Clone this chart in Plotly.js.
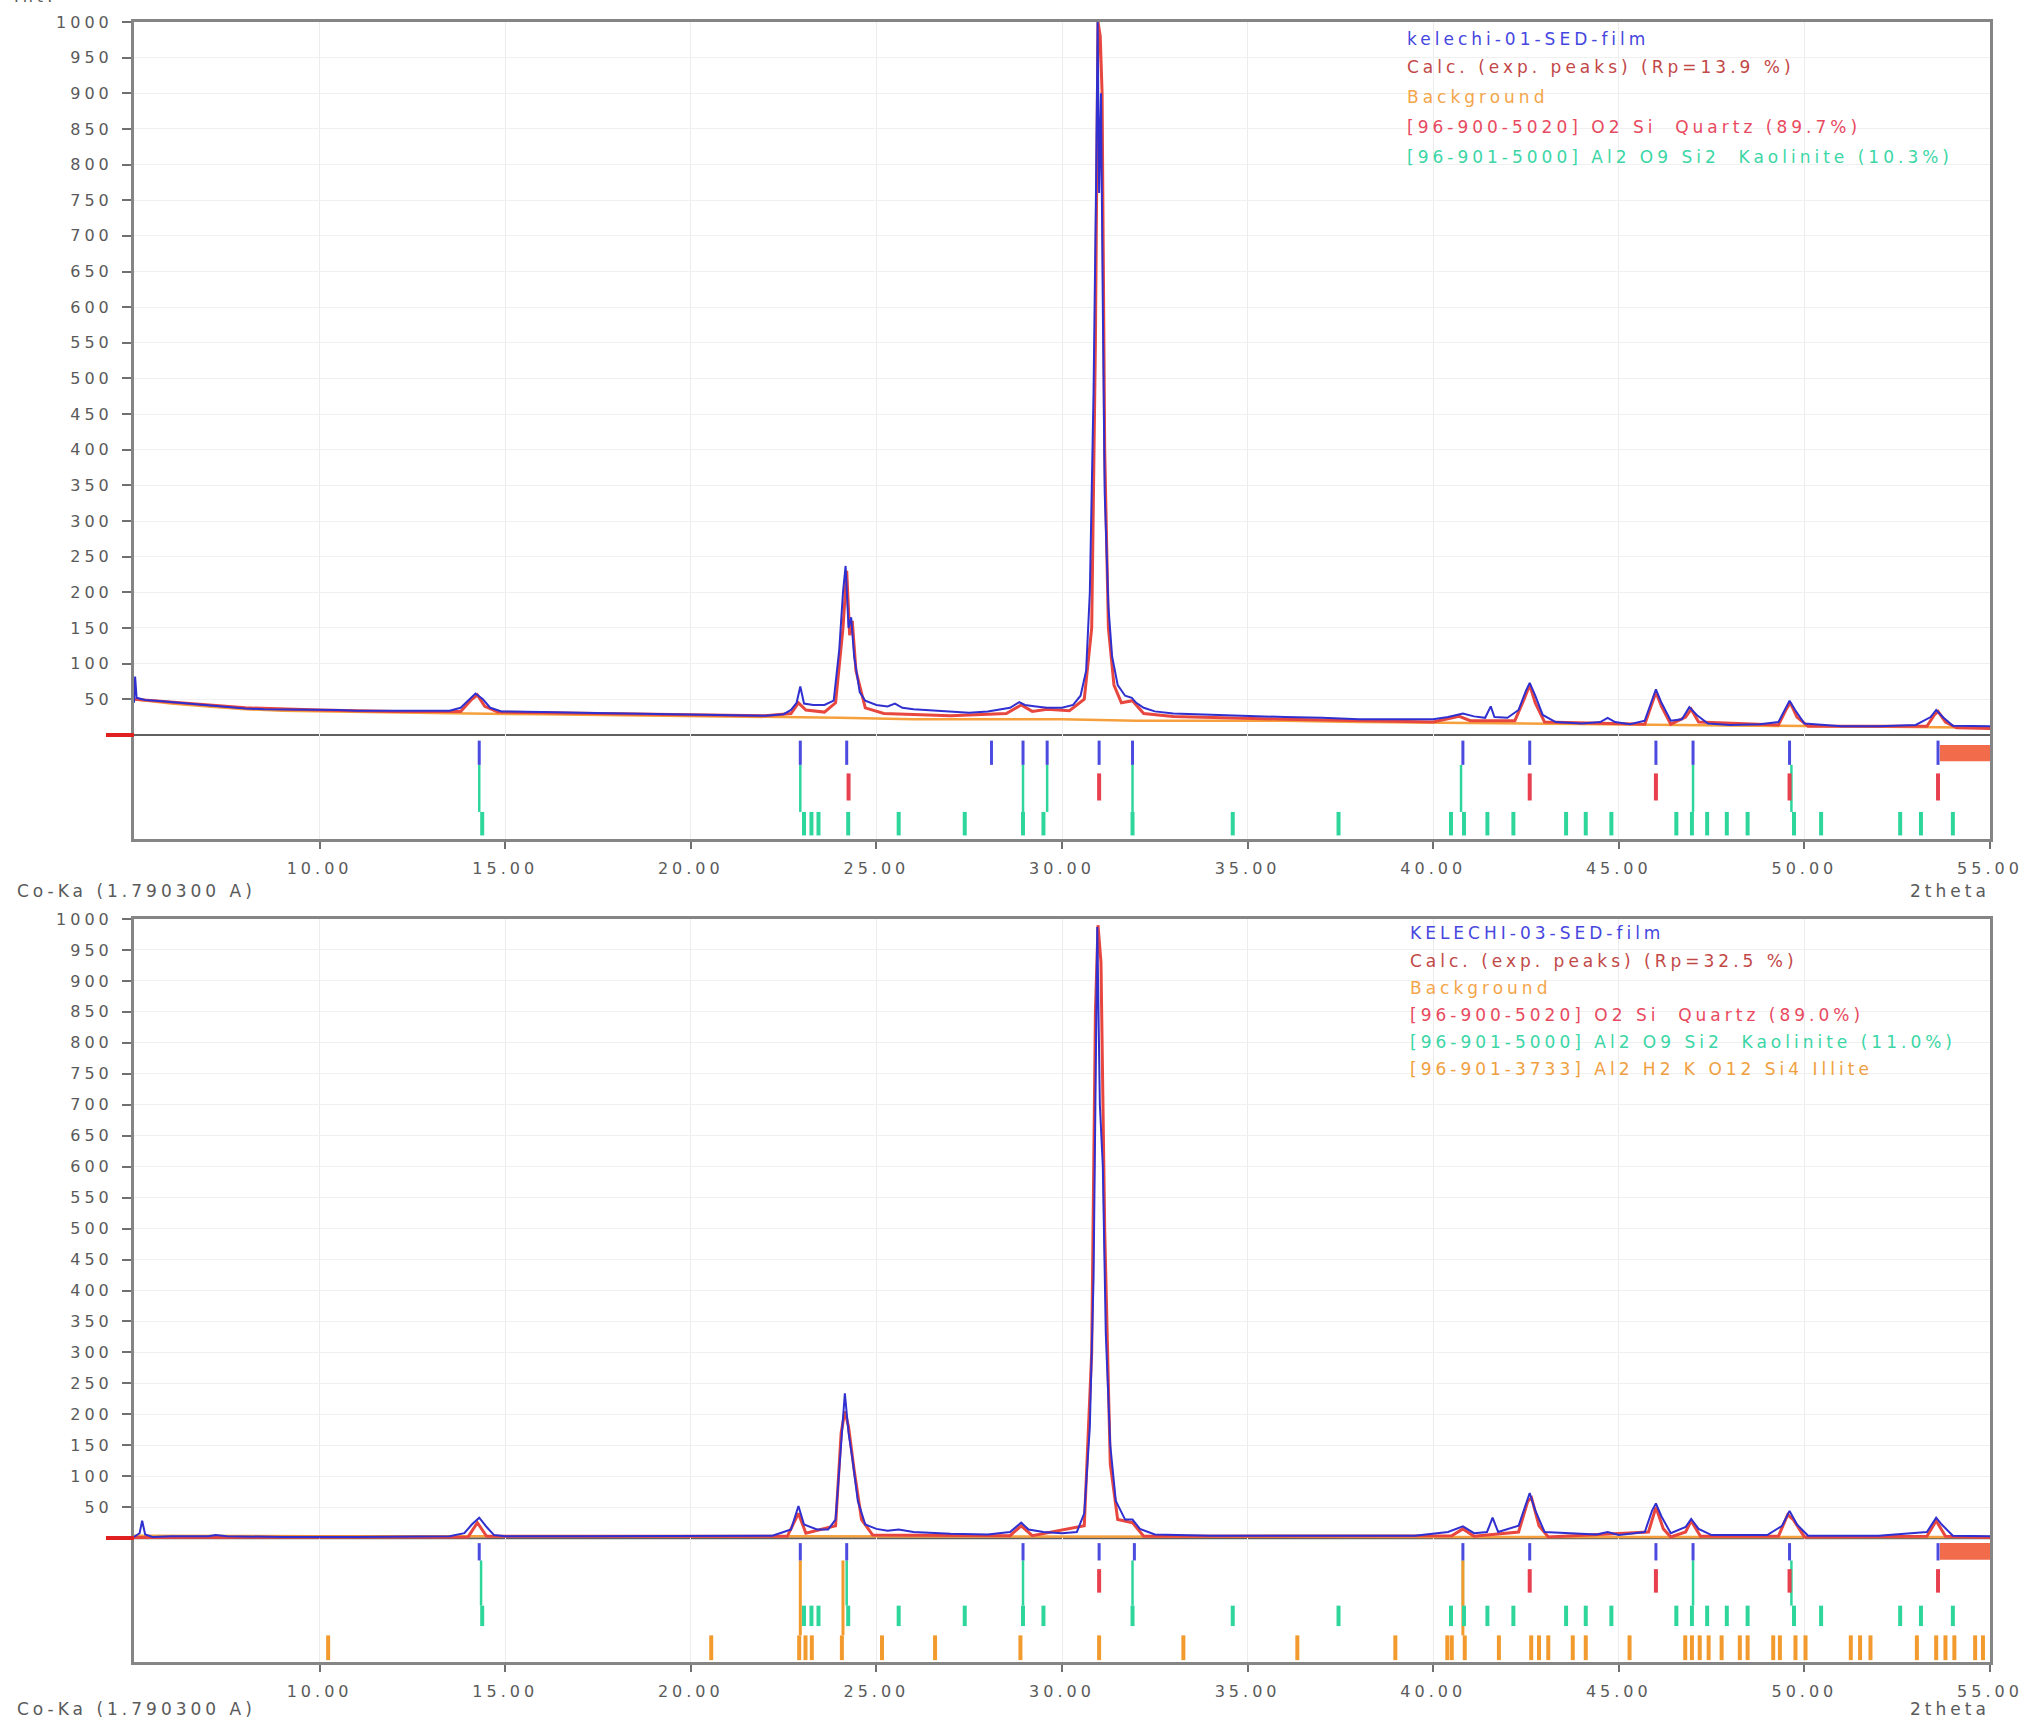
<!DOCTYPE html>
<html><head><meta charset="utf-8">
<script src="https://cdn.plot.ly/plotly-3.0.1.min.js"></script>
<style>
html,body{margin:0;padding:0;background:#fff;}
#chart{width:2030px;height:1726px;}
svg text{letter-spacing:4px;}
</style></head><body><div id="chart"></div>
<script>
// ---------- tick labels ----------
const xTickVals = [10, 15, 20, 25, 30, 35, 40, 45, 50, 55];
const xTickText = ['10.00', '15.00', '20.00', '25.00', '30.00', '35.00', '40.00', '45.00', '50.00', '55.00'];
const yTickVals = [50, 100, 150, 200, 250, 300, 350, 400, 450, 500, 550, 600, 650, 700, 750, 800, 850, 900, 950, 1000];

// ---------- top panel: kelechi-01 ----------
const obs1X = [5.00, 5.03, 5.07, 5.3, 5.6, 6.0, 6.5, 7.0, 7.5, 8.0, 8.5, 9.0, 9.5, 10.0, 10.5, 11.0, 11.5, 12.0, 12.5, 13.0, 13.5, 13.8, 14.0, 14.2, 14.4, 14.6, 14.9, 15.5, 16, 17, 18, 19, 20, 21, 22, 22.5, 22.7, 22.85, 22.95, 23.05, 23.3, 23.6, 23.85, 24.0, 24.1, 24.17, 24.25, 24.32, 24.4, 24.55, 24.7, 25.0, 25.3, 25.5, 25.7, 26.0, 26.5, 27.0, 27.5, 28.0, 28.3, 28.6, 28.85, 29.0, 29.3, 29.6, 30.0, 30.3, 30.5, 30.65, 30.75, 30.85, 30.92, 30.96, 31.0, 31.05, 31.1, 31.15, 31.25, 31.35, 31.5, 31.7, 31.88, 32.0, 32.2, 32.5, 33, 34, 35, 36, 37, 38, 39, 40, 40.4, 40.8, 41.1, 41.4, 41.55, 41.65, 42.0, 42.3, 42.5, 42.6, 42.75, 42.95, 43.3, 44, 44.5, 44.7, 44.9, 45.3, 45.7, 45.9, 46.0, 46.15, 46.4, 46.7, 46.9, 47.1, 47.4, 48, 48.8, 49.3, 49.5, 49.6, 49.75, 50.0, 51, 52, 53.0, 53.4, 53.55, 53.75, 54.0, 55.0];
const obs1Y = [45, 82, 52, 49, 48, 46, 44, 41, 39, 37, 36, 36, 35, 35, 35, 34, 34, 33, 33, 33, 34, 38, 48, 58, 50, 38, 33, 33, 32, 31, 30, 30, 29, 28, 27, 29, 35, 45, 68, 44, 42, 42, 48, 120, 200, 237, 150, 165, 110, 60, 48, 42, 40, 44, 38, 36, 34, 33, 31, 33, 36, 38, 46, 42, 40, 38, 38, 42, 55, 90, 200, 480, 780, 1000, 760, 900, 600, 340, 180, 110, 70, 55, 52, 45, 38, 33, 30, 28, 26, 25, 24, 22, 22, 22, 25, 30, 26, 24, 40, 25, 24, 35, 62, 73, 55, 28, 18, 16, 18, 24, 18, 15, 20, 50, 64, 45, 20, 22, 39, 28, 16, 14, 15, 18, 38, 48, 35, 16, 12, 12, 14, 25, 35, 24, 13, 12];
const calc1X = [5.0, 6, 8, 10, 12, 13.8, 14.1, 14.25, 14.45, 14.8, 16, 20, 22, 22.7, 22.9, 23.1, 23.6, 23.9, 24.1, 24.2, 24.28, 24.35, 24.45, 24.7, 25.2, 27, 28.5, 28.9, 29.2, 29.6, 30.2, 30.6, 30.8, 30.9, 30.97, 31.03, 31.08, 31.15, 31.25, 31.4, 31.6, 31.9, 32.2, 33, 36, 40, 40.7, 41, 42.2, 42.45, 42.6, 42.75, 43.0, 45.7, 45.9, 46.0, 46.15, 46.4, 46.8, 46.95, 47.15, 49.3, 49.5, 49.62, 49.8, 50.1, 53.3, 53.5, 53.6, 53.8, 54.1, 55];
const calc1Y = [50, 46, 38, 35, 33, 33, 50, 56, 40, 32, 31, 28, 27, 30, 45, 35, 32, 45, 150, 230, 140, 160, 90, 38, 30, 27, 30, 42, 33, 36, 34, 50, 150, 550, 1000, 980, 900, 400, 150, 70, 45, 48, 30, 26, 22, 18, 26, 20, 20, 50, 70, 45, 18, 15, 45, 60, 40, 15, 25, 36, 18, 14, 35, 45, 25, 12, 12, 28, 33, 18, 10, 9];
const bkg1X = [5.0, 6, 7, 8, 9, 10, 12, 14, 16, 18, 20, 22, 24, 26, 28, 30, 32, 34, 36, 38, 40, 42, 44, 46, 48, 50, 52, 55];
const bkg1Y = [50, 44, 40, 36, 34, 33, 31, 30, 29, 28, 27, 25, 24, 22, 22, 22, 20, 20, 20, 18, 17, 16, 15, 14, 13, 12, 11, 10];
const peaks1 = [14.3, 22.95, 24.2, 28.1, 28.95, 29.6, 31.0, 31.9, 40.8, 42.6, 46.0, 47.0, 49.6, 53.6];
const quartz1 = [24.25, 31.0, 42.6, 46.0, 49.6, 53.6];
const kaolLinks1 = [14.3, 22.95, 28.95, 29.6, 31.9, 40.75, 47.0, 49.65];

// ---------- bottom panel: KELECHI-03 ----------
const obs2X = [5.0, 5.15, 5.22, 5.3, 5.5, 6, 7, 7.2, 7.5, 9, 11, 12.5, 13.5, 13.9, 14.1, 14.3, 14.5, 14.7, 15, 17, 19, 21, 22.2, 22.5, 22.7, 22.9, 23.05, 23.4, 23.7, 23.9, 24.05, 24.15, 24.25, 24.35, 24.5, 24.7, 25.0, 25.3, 25.6, 26, 27, 28, 28.6, 28.9, 29.1, 29.5, 30.0, 30.4, 30.6, 30.75, 30.85, 30.95, 31.02, 31.1, 31.18, 31.3, 31.45, 31.7, 31.9, 32.1, 32.5, 34, 36, 38, 39.5, 40.4, 40.8, 41.1, 41.45, 41.6, 41.75, 42.3, 42.5, 42.6, 42.75, 43.0, 44.4, 44.7, 45.0, 45.7, 45.9, 46.0, 46.15, 46.4, 46.8, 46.95, 47.15, 47.5, 49.0, 49.4, 49.6, 49.8, 50.1, 52, 53.3, 53.55, 53.7, 54.0, 55];
const obs2Y = [2, 8, 28, 6, 2, 3, 3, 5, 3, 2, 2, 3, 3, 8, 22, 33, 18, 5, 3, 3, 3, 3, 4, 10, 14, 52, 22, 14, 14, 30, 150, 234, 170, 130, 60, 22, 15, 12, 14, 10, 7, 6, 10, 25, 14, 10, 8, 10, 40, 180, 420, 987, 700, 600, 330, 150, 60, 30, 30, 15, 6, 4, 4, 4, 4, 10, 19, 8, 10, 33, 10, 20, 55, 73, 45, 10, 6, 10, 5, 10, 45, 56, 35, 8, 18, 31, 15, 5, 5, 20, 44, 22, 4, 4, 10, 33, 22, 4, 3];
const calc2X = [5, 14.0, 14.25, 14.5, 22.6, 22.9, 23.1, 23.9, 24.05, 24.15, 24.25, 24.4, 24.6, 24.9, 28.6, 28.9, 29.2, 30.6, 30.8, 30.9, 30.97, 31.05, 31.15, 31.3, 31.5, 31.9, 32.2, 40.5, 40.8, 41.1, 42.3, 42.55, 42.65, 42.85, 43.1, 45.8, 46.0, 46.2, 46.4, 46.8, 46.95, 47.2, 49.3, 49.55, 49.7, 50.0, 53.3, 53.55, 53.8, 55];
const calc2Y = [1, 2, 25, 3, 3, 40, 8, 20, 170, 205, 180, 110, 30, 5, 4, 20, 4, 20, 300, 850, 990, 930, 500, 120, 30, 25, 3, 4, 15, 3, 10, 60, 65, 20, 2, 10, 50, 15, 2, 10, 28, 3, 3, 38, 30, 2, 3, 28, 3, 1];
const bkg2X = [5, 10, 20, 30, 40, 55];
const bkg2Y = [4, 3, 3, 2, 2, 2];
const peaks2 = [14.3, 22.95, 24.2, 28.95, 31.0, 31.95, 40.8, 42.6, 46.0, 47.0, 49.6, 53.6];
const quartz2 = [31.0, 42.6, 46.0, 49.6, 53.6];
const kaolLinks2 = [14.35, 24.2, 28.95, 31.9, 40.8, 47.0, 49.65];
const illLinks2 = [22.95, 24.1, 40.8];

// ---------- phase reference sticks ----------
const kaolinite = [14.38, 23.05, 23.25, 23.44, 24.24, 25.6, 27.38, 28.95, 29.5, 31.9, 34.6, 37.45, 40.48, 40.83, 41.46, 42.16, 43.58, 44.11, 44.8, 46.55, 46.97, 47.38, 47.91, 48.47, 49.72, 50.45, 52.58, 53.14, 54.0];
const illite = [10.23, 20.55, 22.92, 23.09, 23.26, 24.07, 25.15, 26.58, 28.88, 31.0, 33.27, 36.34, 38.98, 40.38, 40.5, 40.85, 41.77, 42.64, 42.85, 43.1, 43.76, 44.11, 45.29, 46.79, 46.97, 47.18, 47.42, 47.77, 48.26, 48.47, 49.16, 49.34, 49.76, 50.03, 51.25, 51.5, 51.78, 53.03, 53.55, 53.8, 54.04, 54.6, 54.81];

// ---------- legend texts ----------
const legend1 = ['kelechi-01-SED-film', 'Calc. (exp. peaks) (Rp=13.9 %)', 'Background', '[96-900-5020] O2 Si  Quartz (89.7%)', '[96-901-5000] Al2 O9 Si2  Kaolinite (10.3%)'];
const legend2 = ['KELECHI-03-SED-film', 'Calc. (exp. peaks) (Rp=32.5 %)', 'Background', '[96-900-5020] O2 Si  Quartz (89.0%)', '[96-901-5000] Al2 O9 Si2  Kaolinite (11.0%)', '[96-901-3733] Al2 H2 K O12 Si4 Illite'];

// ---------- styling ----------
const C_OBS = '#3030d0', C_CALC = '#e8473f', C_BKG = '#f5a03c', C_QTZ = '#e8404f', C_KAO = '#2fd69c', C_ILL = '#f29a2e', C_PEAK = '#4b4be0';
const legendColors1 = ['#4646e0', '#c24848', '#f5a54a', '#e84a5f', '#3cd6a6'];
const legendColors2 = ['#4646e0', '#c24848', '#f5a54a', '#e84a5f', '#3cd6a6', '#f0a040'];

function sticks(pos, y0, y1) {
  const x = [], y = [];
  pos.forEach(p => { x.push(p, p, null); y.push(y0, y1, null); });
  return {x, y};
}
function lineTrace(x, y, color, width, xa, ya) {
  return {type: 'scatter', mode: 'lines', x, y, xaxis: xa, yaxis: ya, line: {color, width}, hoverinfo: 'skip', showlegend: false};
}
function stickTrace(pos, y0, y1, color, width, xa, ya) {
  const s = sticks(pos, y0, y1);
  return {type: 'scatter', mode: 'lines', x: s.x, y: s.y, xaxis: xa, yaxis: ya, line: {color, width}, hoverinfo: 'skip', showlegend: false, connectgaps: false};
}

const traces = [
  lineTrace(bkg1X, bkg1Y, C_BKG, 2.5, 'x', 'y'),
  lineTrace(calc1X, calc1Y, C_CALC, 3, 'x', 'y'),
  lineTrace(obs1X, obs1Y, C_OBS, 2, 'x', 'y'),
  stickTrace(kaolLinks1, -42, -108, C_KAO, 2.5, 'x', 'y'),
  stickTrace(peaks1, -8, -42, C_PEAK, 3, 'x', 'y'),
  stickTrace(quartz1, -54, -92, C_QTZ, 4, 'x', 'y'),
  stickTrace(kaolinite, -108, -141, C_KAO, 4, 'x', 'y'),

  lineTrace(bkg2X, bkg2Y, C_BKG, 2.5, 'x2', 'y2'),
  lineTrace(calc2X, calc2Y, C_CALC, 3, 'x2', 'y2'),
  lineTrace(obs2X, obs2Y, C_OBS, 2, 'x2', 'y2'),
  stickTrace(kaolLinks2, -36, -109, C_KAO, 2.5, 'x2', 'y2'),
  stickTrace(illLinks2, -36, -157, C_ILL, 3, 'x2', 'y2'),
  stickTrace(peaks2, -8, -36, C_PEAK, 3, 'x2', 'y2'),
  stickTrace(quartz2, -50, -88, C_QTZ, 4, 'x2', 'y2'),
  stickTrace(kaolinite, -109, -142, C_KAO, 4, 'x2', 'y2'),
  stickTrace(illite, -157, -197, C_ILL, 4, 'x2', 'y2')
];

const FONT = 'DejaVu Sans, Verdana, sans-serif';
const xDom = [134 / 2030, 1990 / 2030];
function xAxis(anchor) {
  return {domain: xDom, anchor, range: [5, 55], tickvals: xTickVals, ticktext: xTickText,
    showgrid: true, gridcolor: '#ececec', gridwidth: 1, zeroline: false,
    showline: true, mirror: true, linecolor: '#858585', linewidth: 3,
    ticks: 'outside', ticklen: 7, tickwidth: 2, tickcolor: '#707070', ticklabelstandoff: 6,
    tickfont: {family: FONT, size: 16, color: '#5a5a5a'}, fixedrange: true};
}
function yAxis(anchor, dom, rng) {
  return {domain: dom, anchor, range: rng, tickvals: yTickVals,
    showgrid: true, gridcolor: '#f0f0f0', gridwidth: 1, zeroline: false,
    showline: true, mirror: true, linecolor: '#858585', linewidth: 3,
    ticks: 'outside', ticklen: 9, tickwidth: 2, tickcolor: '#707070', ticklabelstandoff: 6,
    tickfont: {family: FONT, size: 16, color: '#5a5a5a'}, fixedrange: true};
}

const annotations = [];
function addLegend(texts, colors, x, ys) {
  texts.forEach((t, i) => annotations.push({xref: 'paper', yref: 'paper', x, y: ys[i], xanchor: 'left', yanchor: 'middle',
    text: t, showarrow: false, font: {family: FONT, size: 17, color: colors[i]}}));
}
addLegend(legend1, legendColors1, 1405 / 2030, [39, 67, 97, 127, 157].map(v => 1 - v / 1726));
addLegend(legend2, legendColors2, 1408 / 2030, [933, 961, 988, 1015, 1042, 1069].map(v => 1 - v / 1726));
[891, 1709].forEach(py => {
  annotations.push({xref: 'paper', yref: 'paper', x: 15 / 2030, y: 1 - py / 1726, xanchor: 'left', yanchor: 'middle',
    text: 'Co-Ka (1.790300 A)', showarrow: false, font: {family: FONT, size: 17, color: '#5a5a5a'}});
  annotations.push({xref: 'paper', yref: 'paper', x: 1992 / 2030, y: 1 - py / 1726, xanchor: 'right', yanchor: 'middle',
    text: '2theta', showarrow: false, font: {family: FONT, size: 17, color: '#5a5a5a'}});
});
annotations.push({xref: 'paper', yref: 'paper', x: 12 / 2030, y: 1 - 8 / 1726, xanchor: 'left', yanchor: 'bottom',
  text: 'Int.', showarrow: false, font: {family: FONT, size: 16, color: '#5a5a5a'}});

const shapes = [];
[['x', 'y', 735], ['x2', 'y2', 1538]].forEach(([xa, ya, py]) => {
  shapes.push({type: 'line', xref: xa, yref: ya, x0: 5, x1: 55, y0: 0, y1: 0, line: {color: '#606060', width: 2}, layer: 'below'});
  shapes.push({type: 'line', xref: 'paper', yref: 'paper', x0: 106 / 2030, x1: 134 / 2030, y0: 1 - py / 1726, y1: 1 - py / 1726, line: {color: '#e02020', width: 4}});
});
shapes.push({type: 'rect', xref: 'x', yref: 'y', x0: 53.65, x1: 55, y0: -14, y1: -37, fillcolor: '#f26b4b', line: {width: 0}});
shapes.push({type: 'rect', xref: 'x2', yref: 'y2', x0: 53.65, x1: 55, y0: -8, y1: -35, fillcolor: '#f26b4b', line: {width: 0}});

const layout = {
  width: 2030, height: 1726, margin: {l: 0, r: 0, t: 0, b: 0},
  paper_bgcolor: '#ffffff', plot_bgcolor: '#ffffff', showlegend: false,
  font: {family: FONT},
  xaxis: xAxis('y'),
  yaxis: yAxis('x', [1 - 839 / 1726, 1 - 22 / 1726], [-146, 1000]),
  xaxis2: xAxis('y2'),
  yaxis2: yAxis('x2', [1 - 1662 / 1726, 1 - 919 / 1726], [-200, 1000]),
  annotations, shapes
};

Plotly.newPlot('chart', traces, layout, {displayModeBar: false, staticPlot: true});
</script></body></html>
